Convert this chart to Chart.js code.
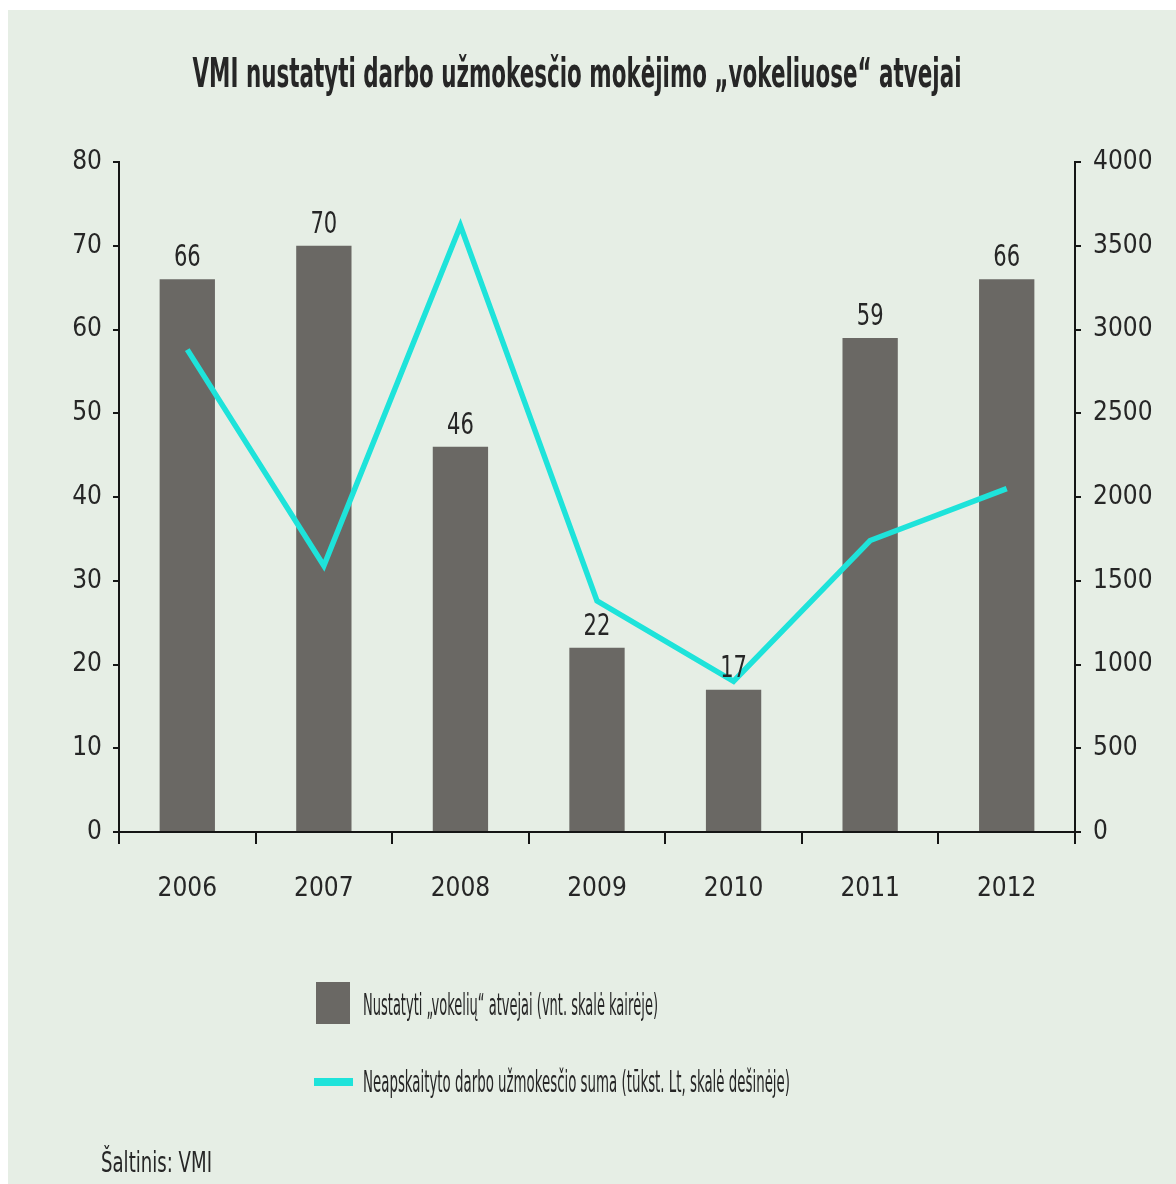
<!DOCTYPE html>
<html>
<head>
<meta charset="utf-8">
<script src="https://cdn.jsdelivr.net/npm/chart.js@4.4.1/dist/chart.umd.min.js"></script>
<style>
html,body{margin:0;padding:0;background:#ffffff;}
canvas{display:block;}
</style>
</head>
<body>
<canvas id="c" width="1176" height="1184"></canvas>
<script>
// ---- Data ----
const years = ['2006', '2007', '2008', '2009', '2010', '2011', '2012'];
const casesFound = [66, 70, 46, 22, 17, 59, 66];
const unpaidAmount = [2880, 1590, 3620, 1380, 900, 1740, 2050];
const leftTickRange = [0, 80, 10];
const rightTickRange = [0, 4000, 500];
const titleText = 'VMI nustatyti darbo užmokesčio mokėjimo „vokeliuose“ atvejai';
const seriesNames = ['Nustatyti „vokelių“ atvejai (vnt. skalė kairėje)', 'Neapskaityto darbo užmokesčio suma (tūkst. Lt, skalė dešinėje)'];
const sourceText = 'Šaltinis: VMI';

// ---- Styles ----
const FONT = '"DejaVu Sans Condensed", "Liberation Sans Narrow", "Liberation Sans", sans-serif';
const BAR_COLOR = '#6a6864';
const LINE_COLOR = '#1ee3da';
const TEXT_COLOR = '#262626';
const AXIS_COLOR = '#151515';
const BG = '#e6eee5';
const TICK_SIZE = 26;

function drawFitText(ctx, text, x, y, font, targetW, align) {
  ctx.save();
  ctx.font = font;
  ctx.fillStyle = TEXT_COLOR;
  ctx.textBaseline = 'alphabetic';
  ctx.textAlign = 'left';
  const w = ctx.measureText(text).width;
  const k = targetW / w;
  let x0 = x;
  if (align === 'center') x0 = x - targetW / 2;
  ctx.translate(x0, y);
  ctx.scale(k, 1);
  ctx.fillText(text, 0, 0);
  ctx.restore();
}

const decorPlugin = {
  id: 'decor',
  beforeDraw(chart) {
    const ctx = chart.ctx;
    ctx.save();
    ctx.fillStyle = '#ffffff';
    ctx.fillRect(0, 0, chart.width, chart.height);
    ctx.fillStyle = BG;
    ctx.fillRect(8, 10, chart.width - 8, chart.height - 10);
    ctx.restore();
  },
  afterDraw(chart) {
    const ctx = chart.ctx;
    // title
    drawFitText(ctx, titleText, 577, 87, 'bold 40px ' + FONT, 769, 'center');
    // value labels above bars
    const meta = chart.getDatasetMeta(0);
    meta.data.forEach((bar, i) => {
      const t = String(chart.data.datasets[0].data[i]);
      ctx.save();
      ctx.font = '30px ' + FONT;
      const w = ctx.measureText(t).width;
      ctx.restore();
      drawFitText(ctx, t, bar.x, bar.y - 13, '30px ' + FONT, w * 0.78, 'center');
    });
    // legend
    const ds = chart.data.datasets;
    ctx.save();
    ctx.fillStyle = ds[0].backgroundColor;
    ctx.fillRect(316, 982, 34, 42);
    ctx.strokeStyle = ds[1].borderColor;
    ctx.lineWidth = 8;
    ctx.beginPath();
    ctx.moveTo(314, 1082);
    ctx.lineTo(353, 1082);
    ctx.stroke();
    ctx.restore();
    drawFitText(ctx, ds[0].label, 363, 1015, '30px ' + FONT, 295, 'left');
    drawFitText(ctx, ds[1].label, 363, 1092, '30px ' + FONT, 427, 'left');
    // source
    drawFitText(ctx, sourceText, 101, 1172, '29px ' + FONT, 111, 'left');
  }
};

new Chart(document.getElementById('c'), {
  type: 'bar',
  data: {
    labels: years,
    datasets: [
      {
        type: 'bar',
        label: seriesNames[0],
        data: casesFound,
        backgroundColor: BAR_COLOR,
        borderWidth: 0,
        yAxisID: 'y',
        categoryPercentage: 1.0,
        barPercentage: 0.405,
        order: 2
      },
      {
        type: 'line',
        label: seriesNames[1],
        data: unpaidAmount,
        borderColor: LINE_COLOR,
        backgroundColor: LINE_COLOR,
        borderWidth: 5.5,
        pointRadius: 0,
        tension: 0,
        borderCapStyle: 'butt',
        borderJoinStyle: 'miter',
        yAxisID: 'y1',
        order: 1
      }
    ]
  },
  options: {
    responsive: false,
    animation: false,
    layout: { padding: { top: 162, left: 0, right: 0, bottom: 0 } },
    plugins: {
      legend: { display: false },
      title: { display: false },
      tooltip: { enabled: false }
    },
    scales: {
      x: {
        offset: true,
        grid: { display: true, offset: true, drawOnChartArea: false, drawTicks: true, tickLength: 12, color: AXIS_COLOR, lineWidth: 2 },
        border: { display: true, color: AXIS_COLOR, width: 2 },
        ticks: { color: TEXT_COLOR, font: { family: FONT, size: TICK_SIZE }, padding: 30, maxRotation: 0 },
        afterFit(scale) { scale.height = 352; }
      },
      y: {
        position: 'left',
        min: leftTickRange[0], max: leftTickRange[1],
        ticks: { stepSize: leftTickRange[2], color: TEXT_COLOR, font: { family: FONT, size: TICK_SIZE }, padding: 11, callback: v => String(v) },
        grid: { drawOnChartArea: false, drawTicks: true, tickLength: 6, color: AXIS_COLOR, lineWidth: 2 },
        border: { display: true, color: AXIS_COLOR, width: 2 },
        afterFit(scale) { scale.width = 119; }
      },
      y1: {
        position: 'right',
        min: rightTickRange[0], max: rightTickRange[1],
        ticks: { stepSize: rightTickRange[2], color: TEXT_COLOR, font: { family: FONT, size: TICK_SIZE }, padding: 12, callback: v => String(v) },
        grid: { drawOnChartArea: false, drawTicks: true, tickLength: 6, color: AXIS_COLOR, lineWidth: 2 },
        border: { display: true, color: AXIS_COLOR, width: 2 },
        afterFit(scale) { scale.width = 101; }
      }
    }
  },
  plugins: [decorPlugin]
});
</script>
</body>
</html>
